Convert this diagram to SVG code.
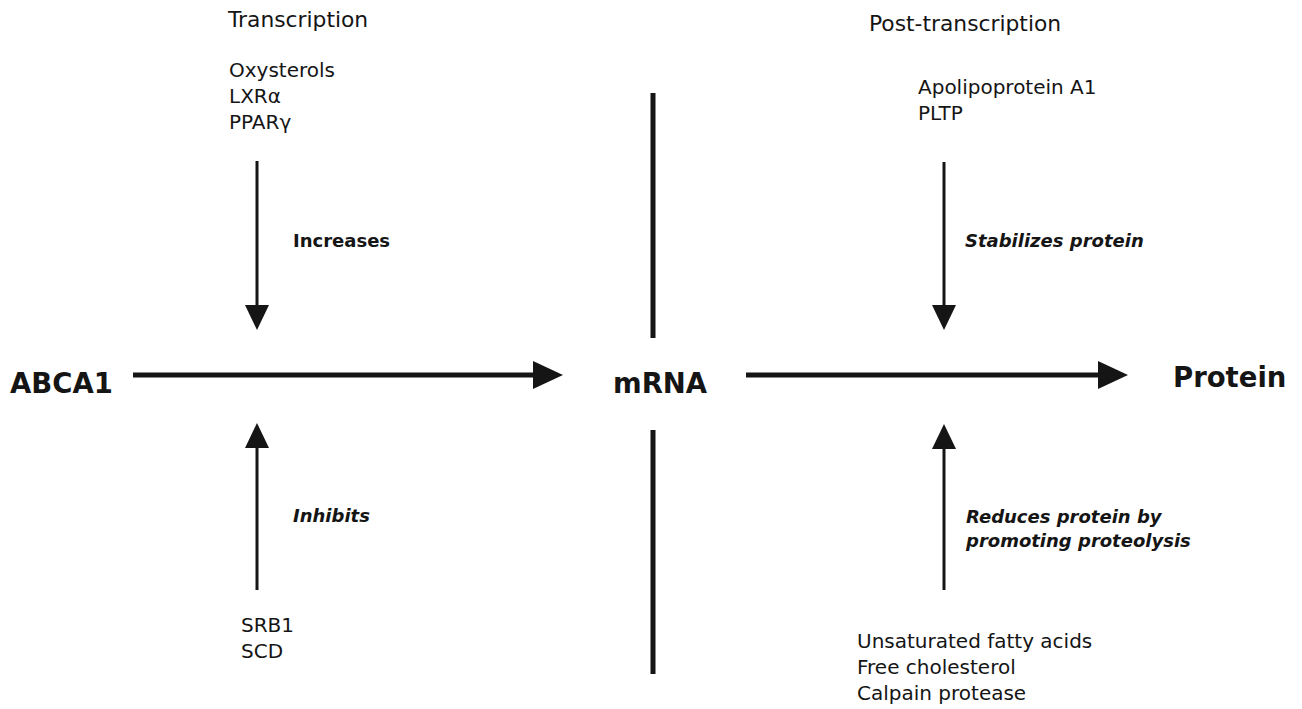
<svg xmlns="http://www.w3.org/2000/svg" width="1302" height="709" viewBox="0 0 1302 709">
<style>
  .t { font-family: "DejaVu Sans", Verdana, sans-serif; font-size: 20px; fill: #151515; }
  .h { font-family: "DejaVu Sans", Verdana, sans-serif; font-size: 21.8px; fill: #151515; }
  .lbl { font-family: "DejaVu Sans", Verdana, sans-serif; font-size: 18px; font-weight: bold; fill: #151515; }
  .lbli { font-family: "DejaVu Sans", Verdana, sans-serif; font-size: 18px; font-weight: bold; font-style: italic; fill: #151515; }
  .big { font-family: "DejaVu Sans", Verdana, sans-serif; font-size: 27.5px; font-weight: bold; fill: #151515; }
  .thin { stroke: #151515; stroke-width: 3; fill: none; }
  .thick { stroke: #151515; stroke-width: 5; fill: none; }
</style>
<defs>
  <marker id="headS" markerUnits="userSpaceOnUse" markerWidth="25" markerHeight="24" viewBox="0 0 25 24" refX="1" refY="12" orient="auto">
    <path d="M0,0 L25,12 L0,24 Z" fill="#151515"/>
  </marker>
  <marker id="headL" markerUnits="userSpaceOnUse" markerWidth="30" markerHeight="28" viewBox="0 0 30 28" refX="1" refY="14" orient="auto">
    <path d="M0,0 L30,14 L0,28 Z" fill="#151515"/>
  </marker>
</defs>
<rect width="1302" height="709" fill="#ffffff"/>

<g id="connectors">
  <line class="thick" x1="133" y1="375" x2="534" y2="375" marker-end="url(#headL)"/>
  <line class="thick" x1="746" y1="375" x2="1099" y2="375" marker-end="url(#headL)"/>
  <line class="thin" x1="257" y1="161" x2="257" y2="306" marker-end="url(#headS)"/>
  <line class="thin" x1="257" y1="590" x2="257" y2="447" marker-end="url(#headS)"/>
  <line class="thin" x1="944" y1="162" x2="944" y2="306" marker-end="url(#headS)"/>
  <line class="thin" x1="944" y1="590" x2="944" y2="448" marker-end="url(#headS)"/>
  <line class="thick" x1="653" y1="93" x2="653" y2="338"/>
  <line class="thick" x1="653" y1="430" x2="653" y2="674"/>
</g>

<g id="abca1"><text class="big" x="10" y="393">ABCA1</text></g>
<g id="mrna"><text class="big" x="613" y="393">mRNA</text></g>
<g id="protein"><text class="big" x="1173" y="387">Protein</text></g>

<g id="transcription"><text class="h" x="228" y="27">Transcription</text></g>
<g id="post-transcription"><text class="h" x="869" y="31">Post-transcription</text></g>

<g id="activators">
  <text class="t" x="229" y="77">Oxysterols</text>
  <text class="t" x="229" y="103">LXRα</text>
  <text class="t" x="229" y="129">PPARγ</text>
</g>
<g id="increases"><text class="lbl" x="293" y="247">Increases</text></g>

<g id="inhibitors">
  <text class="t" x="241" y="632">SRB1</text>
  <text class="t" x="241" y="658">SCD</text>
</g>
<g id="inhibits"><text class="lbli" x="293" y="522">Inhibits</text></g>

<g id="stabilizers">
  <text class="t" x="918" y="94">Apolipoprotein A1</text>
  <text class="t" x="918" y="120">PLTP</text>
</g>
<g id="stabilizes"><text class="lbli" x="965" y="247">Stabilizes protein</text></g>

<g id="reduces">
  <text class="lbli" x="966" y="523">Reduces protein by</text>
  <text class="lbli" x="966" y="547">promoting proteolysis</text>
</g>
<g id="proteolysis-factors">
  <text class="t" x="857" y="648">Unsaturated fatty acids</text>
  <text class="t" x="857" y="674">Free cholesterol</text>
  <text class="t" x="857" y="700">Calpain protease</text>
</g>
</svg>
